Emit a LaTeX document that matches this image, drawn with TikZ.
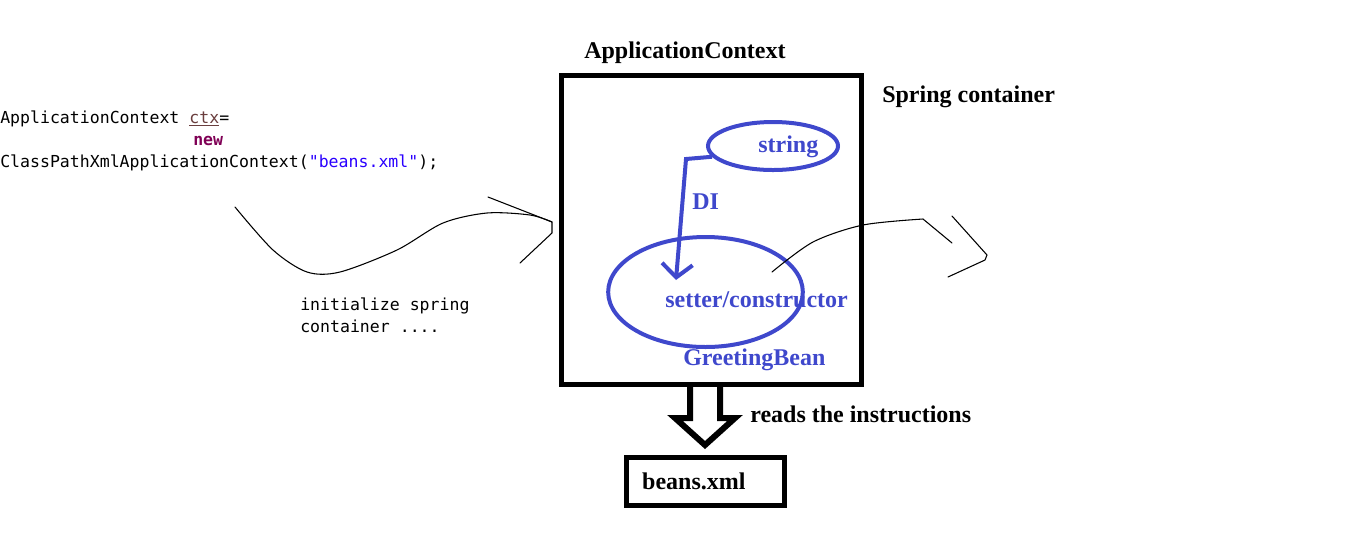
\documentclass[tikz,border=0pt]{standalone}
\usepackage{fontspec}
\setmainfont{Liberation Serif}
\setmonofont{DejaVu Sans Mono}
\usepackage{xcolor}
\usetikzlibrary{arrows.meta,calc,shapes.geometric}
\definecolor{paintblue}{HTML}{3F48CC}
\definecolor{varbrown}{HTML}{6A3E3E}
\definecolor{kwpurple}{HTML}{7F0055}
\definecolor{strblue}{HTML}{2A00FF}

\begin{document}
\begin{tikzpicture}[x=0.75pt, y=-0.75pt,
  lbl/.style={inner sep=0pt, anchor=base west, font=\fontsize{18}{21}\selectfont\bfseries},
  code/.style={inner sep=0pt, anchor=base west, font=\fontsize{12.4}{15}\selectfont\ttfamily},
  pen/.style={line width=0.8pt, line join=round, line cap=round},
  bluepen/.style={draw=paintblue, line width=3pt},
  box/.style={draw, line width=3.75pt, inner sep=0pt, outer sep=0pt},
  hollow/.style={line width=4.5pt}]
\useasboundingbox (0,0) rectangle (1349,544);

\node[code] (line1) at (0,123) {ApplicationContext \textcolor{varbrown}{\underline{ctx}}=};
\node[code] (kwnew) at (193,145) {\textcolor{kwpurple}{\textbf{new}}};
\node[code] (line3) at (0,167) {ClassPathXmlApplicationContext(\textcolor{strblue}{"beans.xml"});};
\node[code] (init1) at (300,310) {initialize spring};
\node[code] (init2) at (300,332) {container ....};

\node[box, minimum width=225pt, minimum height=231.75pt] (ctx) at (711,229.5) {};
\node[lbl] (ctxlbl) at (584,58) {ApplicationContext};
\node[lbl] (spring) at (882,102) {Spring container};

\node[bluepen, ellipse, inner sep=0pt, minimum width=97.5pt, minimum height=36pt] (string) at (773,146) {};
\node[bluepen, ellipse, inner sep=0pt, minimum width=146pt, minimum height=82.5pt] (bean) at (705.5,292) {};
\node[lbl, text=paintblue] (stringlbl) at (758,152) {string};
\node[lbl, text=paintblue] (di) at (692,209) {DI};
\node[lbl, text=paintblue] (setter) at (665,307) {setter/constructor};
\node[lbl, text=paintblue] (greet) at (683,365) {GreetingBean};
\coordinate (inject) at (676,280);
\draw[bluepen, -{Straight Barb[length=10pt,width=23pt]}] (string.190) -- (686,159) -- (inject);

\draw[pen] plot[smooth] coordinates {(235,207) (273,250) (307,272) (340,272) (397,250) (443,223) (487,213) (530,215) (552,222)};
\draw[pen] (488,197) -- (552,222) -- (552,233) -- (520,263);
\draw[pen] plot[smooth] coordinates {(772,272) (813,242) (863,225) (923,219)} -- (952,243);
\draw[pen] (952,216) -- (987,255) -- (985,260) -- (948,277);

\node[box, lbl, anchor=center, text width=95pt, inner xsep=11.6pt, minimum height=36pt, align=left] (beans) at (705.5,481.5) {beans.xml};
\draw[hollow] ($(ctx.south)+(-21,0)$) -- ++(0,34) -- ++(-15,0) -- ++(30,27) -- ++(30,-27) -- ++(-15,0) -- ++(0,-34);
\node[lbl] (reads) at (750,422) {reads the instructions};
\end{tikzpicture}
\end{document}
